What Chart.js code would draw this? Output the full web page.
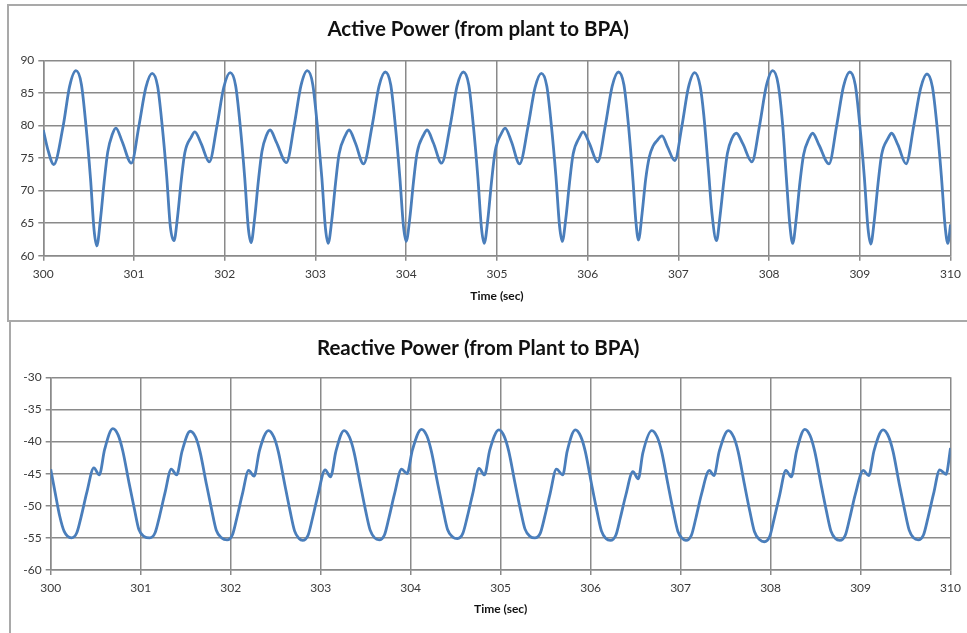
<!DOCTYPE html>
<html>
<head>
<meta charset="utf-8">
<script src="https://cdn.jsdelivr.net/npm/chart.js@4"></script>
<style>
  html, body { margin: 0; padding: 0; background: #fff; width: 967px; height: 633px; overflow: hidden; }
  .frame { position: absolute; box-sizing: border-box; }
  #frameTop { left: 7px; top: 4px; width: 980px; height: 318px; border: 2px solid #a9a9a9; }
  #frameBottom { left: 9px; top: 322px; width: 980px; height: 330px; border-left: 2px solid #a9a9a9; }
  canvas { position: absolute; left: 0; }
  #activeChart { top: 0; }
  #reactiveChart { top: 322px; }
</style>
</head>
<body>
<div class="frame" id="frameTop"></div>
<div class="frame" id="frameBottom"></div>
<canvas id="activeChart" width="967" height="320"></canvas>
<canvas id="reactiveChart" width="967" height="311"></canvas>
<script>
// Active power samples (time in sec, MW)
const activeTime = [
  300.00, 300.05, 300.115,
  300.22, 300.29, 300.36, 300.42, 300.47, 300.52, 300.56, 300.59, 300.63, 300.67, 300.71, 300.76, 300.80, 300.87, 300.97,
  301.055, 301.13, 301.20, 301.26, 301.31, 301.36, 301.40, 301.44, 301.48, 301.52, 301.56, 301.63, 301.67, 301.74, 301.83,
  301.915, 301.99, 302.06, 302.12, 302.17, 302.22, 302.26, 302.29, 302.33, 302.37, 302.41, 302.46, 302.50, 302.57, 302.68,
  302.765, 302.84, 302.91, 302.97, 303.02, 303.07, 303.11, 303.14, 303.18, 303.22, 303.26, 303.33, 303.37, 303.44, 303.53,
  303.625, 303.70, 303.77, 303.83, 303.88, 303.93, 303.97, 304.00, 304.04, 304.08, 304.12, 304.19, 304.23, 304.30, 304.39,
  304.485, 304.56, 304.63, 304.69, 304.74, 304.79, 304.83, 304.86, 304.90, 304.94, 304.98, 305.05, 305.09, 305.16, 305.25,
  305.345, 305.42, 305.49, 305.55, 305.60, 305.65, 305.69, 305.72, 305.76, 305.80, 305.84, 305.91, 305.95, 306.02, 306.11,
  306.195, 306.27, 306.34, 306.40, 306.45, 306.50, 306.53, 306.56, 306.60, 306.64, 306.68, 306.72, 306.76, 306.82, 306.88, 306.96,
  307.04, 307.11, 307.18, 307.24, 307.28, 307.33, 307.37, 307.42, 307.46, 307.50, 307.54, 307.59, 307.64, 307.71, 307.81,
  307.895, 307.97, 308.04, 308.10, 308.15, 308.19, 308.23, 308.26, 308.30, 308.34, 308.38, 308.44, 308.48, 308.55, 308.66,
  308.745, 308.82, 308.89, 308.95, 309.00, 309.05, 309.09, 309.12, 309.16, 309.20, 309.24, 309.31, 309.35, 309.42, 309.51,
  309.595, 309.67, 309.74, 309.80, 309.85, 309.90, 309.94, 309.97, 310.00
];
const activePower = [
  79.3, 76.3, 74.0,
  80.0, 86.0, 88.4, 86.3, 80.0, 71.9, 63.9, 61.5, 65.6, 71.2, 75.9, 78.6, 79.6, 77.5, 74.2,
  80.0, 85.8, 88.0, 86.0, 80.0, 72.2, 64.5, 62.3, 66.0, 71.5, 75.8, 78.2, 79.0, 77.2, 74.4,
  80.0, 85.9, 88.1, 86.1, 80.0, 72.0, 64.2, 62.0, 65.8, 71.4, 76.0, 78.5, 79.3, 77.4, 74.3,
  80.0, 86.1, 88.4, 86.3, 80.0, 72.0, 64.2, 61.9, 65.5, 71.0, 75.6, 78.5, 79.3, 77.3, 74.1,
  80.0, 86.0, 88.2, 86.2, 80.0, 72.0, 64.5, 62.2, 65.8, 71.3, 75.8, 78.5, 79.3, 77.3, 74.2,
  80.0, 86.0, 88.2, 86.2, 80.0, 72.0, 64.2, 61.9, 65.6, 71.3, 76.0, 78.8, 79.6, 77.5, 74.1,
  80.0, 85.8, 88.0, 86.0, 80.0, 72.2, 64.6, 62.2, 65.8, 71.2, 75.6, 78.2, 79.0, 77.2, 74.4,
  80.0, 86.0, 88.2, 86.2, 80.0, 71.5, 65.5, 62.4, 66.5, 71.8, 75.2, 76.8, 77.6, 78.4, 76.7, 74.6,
  80.0, 85.8, 88.1, 86.0, 81.6, 73.4, 66.5, 62.3, 66.2, 71.3, 75.7, 78.0, 78.8, 77.2, 74.4,
  80.0, 86.1, 88.4, 86.3, 80.0, 72.0, 64.5, 61.9, 65.8, 71.3, 75.5, 78.0, 78.8, 77.0, 74.1,
  80.0, 86.0, 88.2, 86.2, 80.0, 72.0, 64.2, 61.8, 65.5, 71.0, 75.5, 78.0, 78.8, 77.0, 74.1,
  80.0, 85.7, 87.9, 85.9, 80.0, 72.0, 64.5, 61.9, 64.8
];

// Reactive power samples (time in sec, MVAr)
const reactiveTime = [
  300.00, 300.05, 300.10, 300.15, 300.23,
  300.29, 300.34, 300.40, 300.48, 300.54, 300.60, 300.69, 300.75, 300.80, 300.87, 300.93, 300.98, 301.04, 301.10,
  301.16, 301.21, 301.27, 301.34, 301.40, 301.46, 301.55, 301.61, 301.66, 301.73, 301.79, 301.84, 301.90, 301.96,
  302.02, 302.07, 302.13, 302.20, 302.26, 302.32, 302.42, 302.48, 302.53, 302.60, 302.66, 302.71, 302.76, 302.80,
  302.86, 302.91, 302.97, 303.05, 303.11, 303.17, 303.26, 303.32, 303.37, 303.44, 303.50, 303.55, 303.60, 303.65,
  303.71, 303.76, 303.82, 303.90, 303.96, 304.02, 304.12, 304.18, 304.23, 304.30, 304.36, 304.41, 304.47, 304.52,
  304.58, 304.63, 304.69, 304.76, 304.82, 304.88, 304.98, 305.04, 305.09, 305.16, 305.22, 305.27, 305.33, 305.38,
  305.44, 305.49, 305.55, 305.62, 305.69, 305.74, 305.83, 305.89, 305.94, 306.01, 306.07, 306.12, 306.17, 306.22,
  306.28, 306.33, 306.39, 306.47, 306.53, 306.58, 306.68, 306.74, 306.79, 306.86, 306.92, 306.97, 307.02, 307.06,
  307.12, 307.17, 307.23, 307.32, 307.37, 307.43, 307.53, 307.59, 307.64, 307.71, 307.77, 307.82, 307.88, 307.93,
  307.99, 308.04, 308.10, 308.17, 308.23, 308.29, 308.38, 308.44, 308.49, 308.56, 308.62, 308.67, 308.72, 308.77,
  308.83, 308.88, 308.94, 309.03, 309.09, 309.15, 309.25, 309.31, 309.36, 309.43, 309.49, 309.54, 309.59, 309.64,
  309.70, 309.75, 309.81, 309.88, 309.95, 310.00
];
const reactivePower = [
  -44.3, -48.0, -51.6, -54.0, -55.0,
  -54.2, -51.6, -48.0, -44.1, -45.2, -41.2, -38.0, -39.0, -41.4, -46.4, -50.5, -53.7, -54.8, -55.0,
  -54.2, -51.6, -48.0, -44.3, -45.2, -41.5, -38.4, -39.3, -41.6, -46.6, -50.7, -53.8, -55.0, -55.3,
  -54.5, -51.8, -48.2, -44.5, -45.4, -41.4, -38.3, -39.3, -41.6, -46.6, -50.8, -53.9, -55.1, -55.4,
  -54.6, -51.9, -48.3, -44.4, -45.5, -41.5, -38.3, -39.3, -41.6, -46.6, -50.8, -53.8, -55.0, -55.3,
  -54.5, -51.8, -48.2, -44.3, -45.0, -41.3, -38.1, -39.1, -41.5, -46.5, -50.6, -53.7, -54.9, -55.1,
  -54.3, -51.7, -48.1, -44.2, -45.2, -41.3, -38.2, -39.2, -41.5, -46.5, -50.6, -53.6, -54.8, -55.0,
  -54.3, -51.7, -48.1, -44.3, -45.2, -41.5, -38.2, -39.2, -41.5, -46.6, -50.8, -53.9, -55.1, -55.4,
  -54.6, -51.9, -48.4, -44.7, -45.8, -41.8, -38.3, -39.3, -41.6, -46.7, -50.9, -54.0, -55.1, -55.4,
  -54.6, -51.9, -48.3, -44.5, -45.3, -41.5, -38.3, -39.3, -41.6, -46.7, -50.9, -54.0, -55.3, -55.6,
  -54.8, -52.0, -48.4, -44.5, -45.5, -41.4, -38.1, -39.1, -41.5, -46.6, -50.8, -53.9, -55.1, -55.4,
  -54.6, -51.9, -48.3, -44.5, -45.3, -41.4, -38.2, -39.2, -41.5, -46.6, -50.7, -53.8, -55.0, -55.3,
  -54.5, -51.8, -48.2, -44.4, -45.1, -41.0
];

const timeTicks = [300, 301, 302, 303, 304, 305, 306, 307, 308, 309, 310];
const activeRange = [60, 90];
const reactiveRange = [-60, -30];

const lineColor = '#4a7ebb';
const gridColor = '#8a8a8a';
const textColor = '#3a3a3a';
const fontFamily = 'Lato, "Open Sans", sans-serif';

function makeChart(id, title, times, values, range, box) {
  const points = times.map((t, i) => ({ x: t, y: values[i] }));
  return new Chart(document.getElementById(id), {
    type: 'line',
    data: {
      datasets: [{
        data: points,
        borderColor: lineColor,
        borderWidth: 2.8,
        pointRadius: 0,
        fill: false,
        cubicInterpolationMode: 'monotone'
      }]
    },
    options: {
      responsive: false,
      animation: false,
      devicePixelRatio: 1,
      layout: { padding: { left: 0, right: box.right, top: 0, bottom: 0 } },
      plugins: {
        legend: { display: false },
        tooltip: { enabled: false },
        title: {
          display: true,
          text: title,
          color: '#111',
          font: { family: fontFamily, size: 20.5, weight: 'bold' },
          padding: { top: box.titleTop, bottom: box.titleBottom }
        }
      },
      scales: {
        x: {
          type: 'linear',
          min: timeTicks[0],
          max: timeTicks[timeTicks.length - 1],
          afterBuildTicks: (scale) => { scale.ticks = timeTicks.map(v => ({ value: v })); },
          afterFit: (scale) => { scale.height = box.xHeight; },
          ticks: {
            color: textColor,
            font: { family: fontFamily, size: 12 },
            padding: 6,
            maxRotation: 0,
            callback: (v) => String(v)
          },
          grid: { color: gridColor, lineWidth: 1.5, tickLength: 5 },
          border: { color: gridColor, width: 1.5 },
          title: {
            display: true,
            text: 'Time (sec)',
            color: '#111',
            font: { family: fontFamily, size: 12, weight: 'bold' },
            padding: { top: 0, bottom: box.axisTitleBottom }
          }
        },
        y: {
          min: range[0],
          max: range[1],
          afterFit: (scale) => { scale.width = box.yWidth; },
          ticks: {
            stepSize: 5,
            color: textColor,
            font: { family: fontFamily, size: 12 },
            padding: 4
          },
          grid: { color: gridColor, lineWidth: 1.5, tickLength: 5 },
          border: { color: gridColor, width: 1.5 }
        }
      }
    }
  });
}

makeChart('activeChart', 'Active Power (from plant to BPA)', activeTime, activePower, activeRange,
  { right: 10.7, titleTop: 16.7, titleBottom: 19, xHeight: 64.3, yWidth: 43.3, axisTitleBottom: 16.5 });
makeChart('reactiveChart', 'Reactive Power (from Plant to BPA)', reactiveTime, reactivePower, reactiveRange,
  { right: 10.7, titleTop: 13.7, titleBottom: 17, xHeight: 63, yWidth: 50.7, axisTitleBottom: 17 });
</script>
</body>
</html>
